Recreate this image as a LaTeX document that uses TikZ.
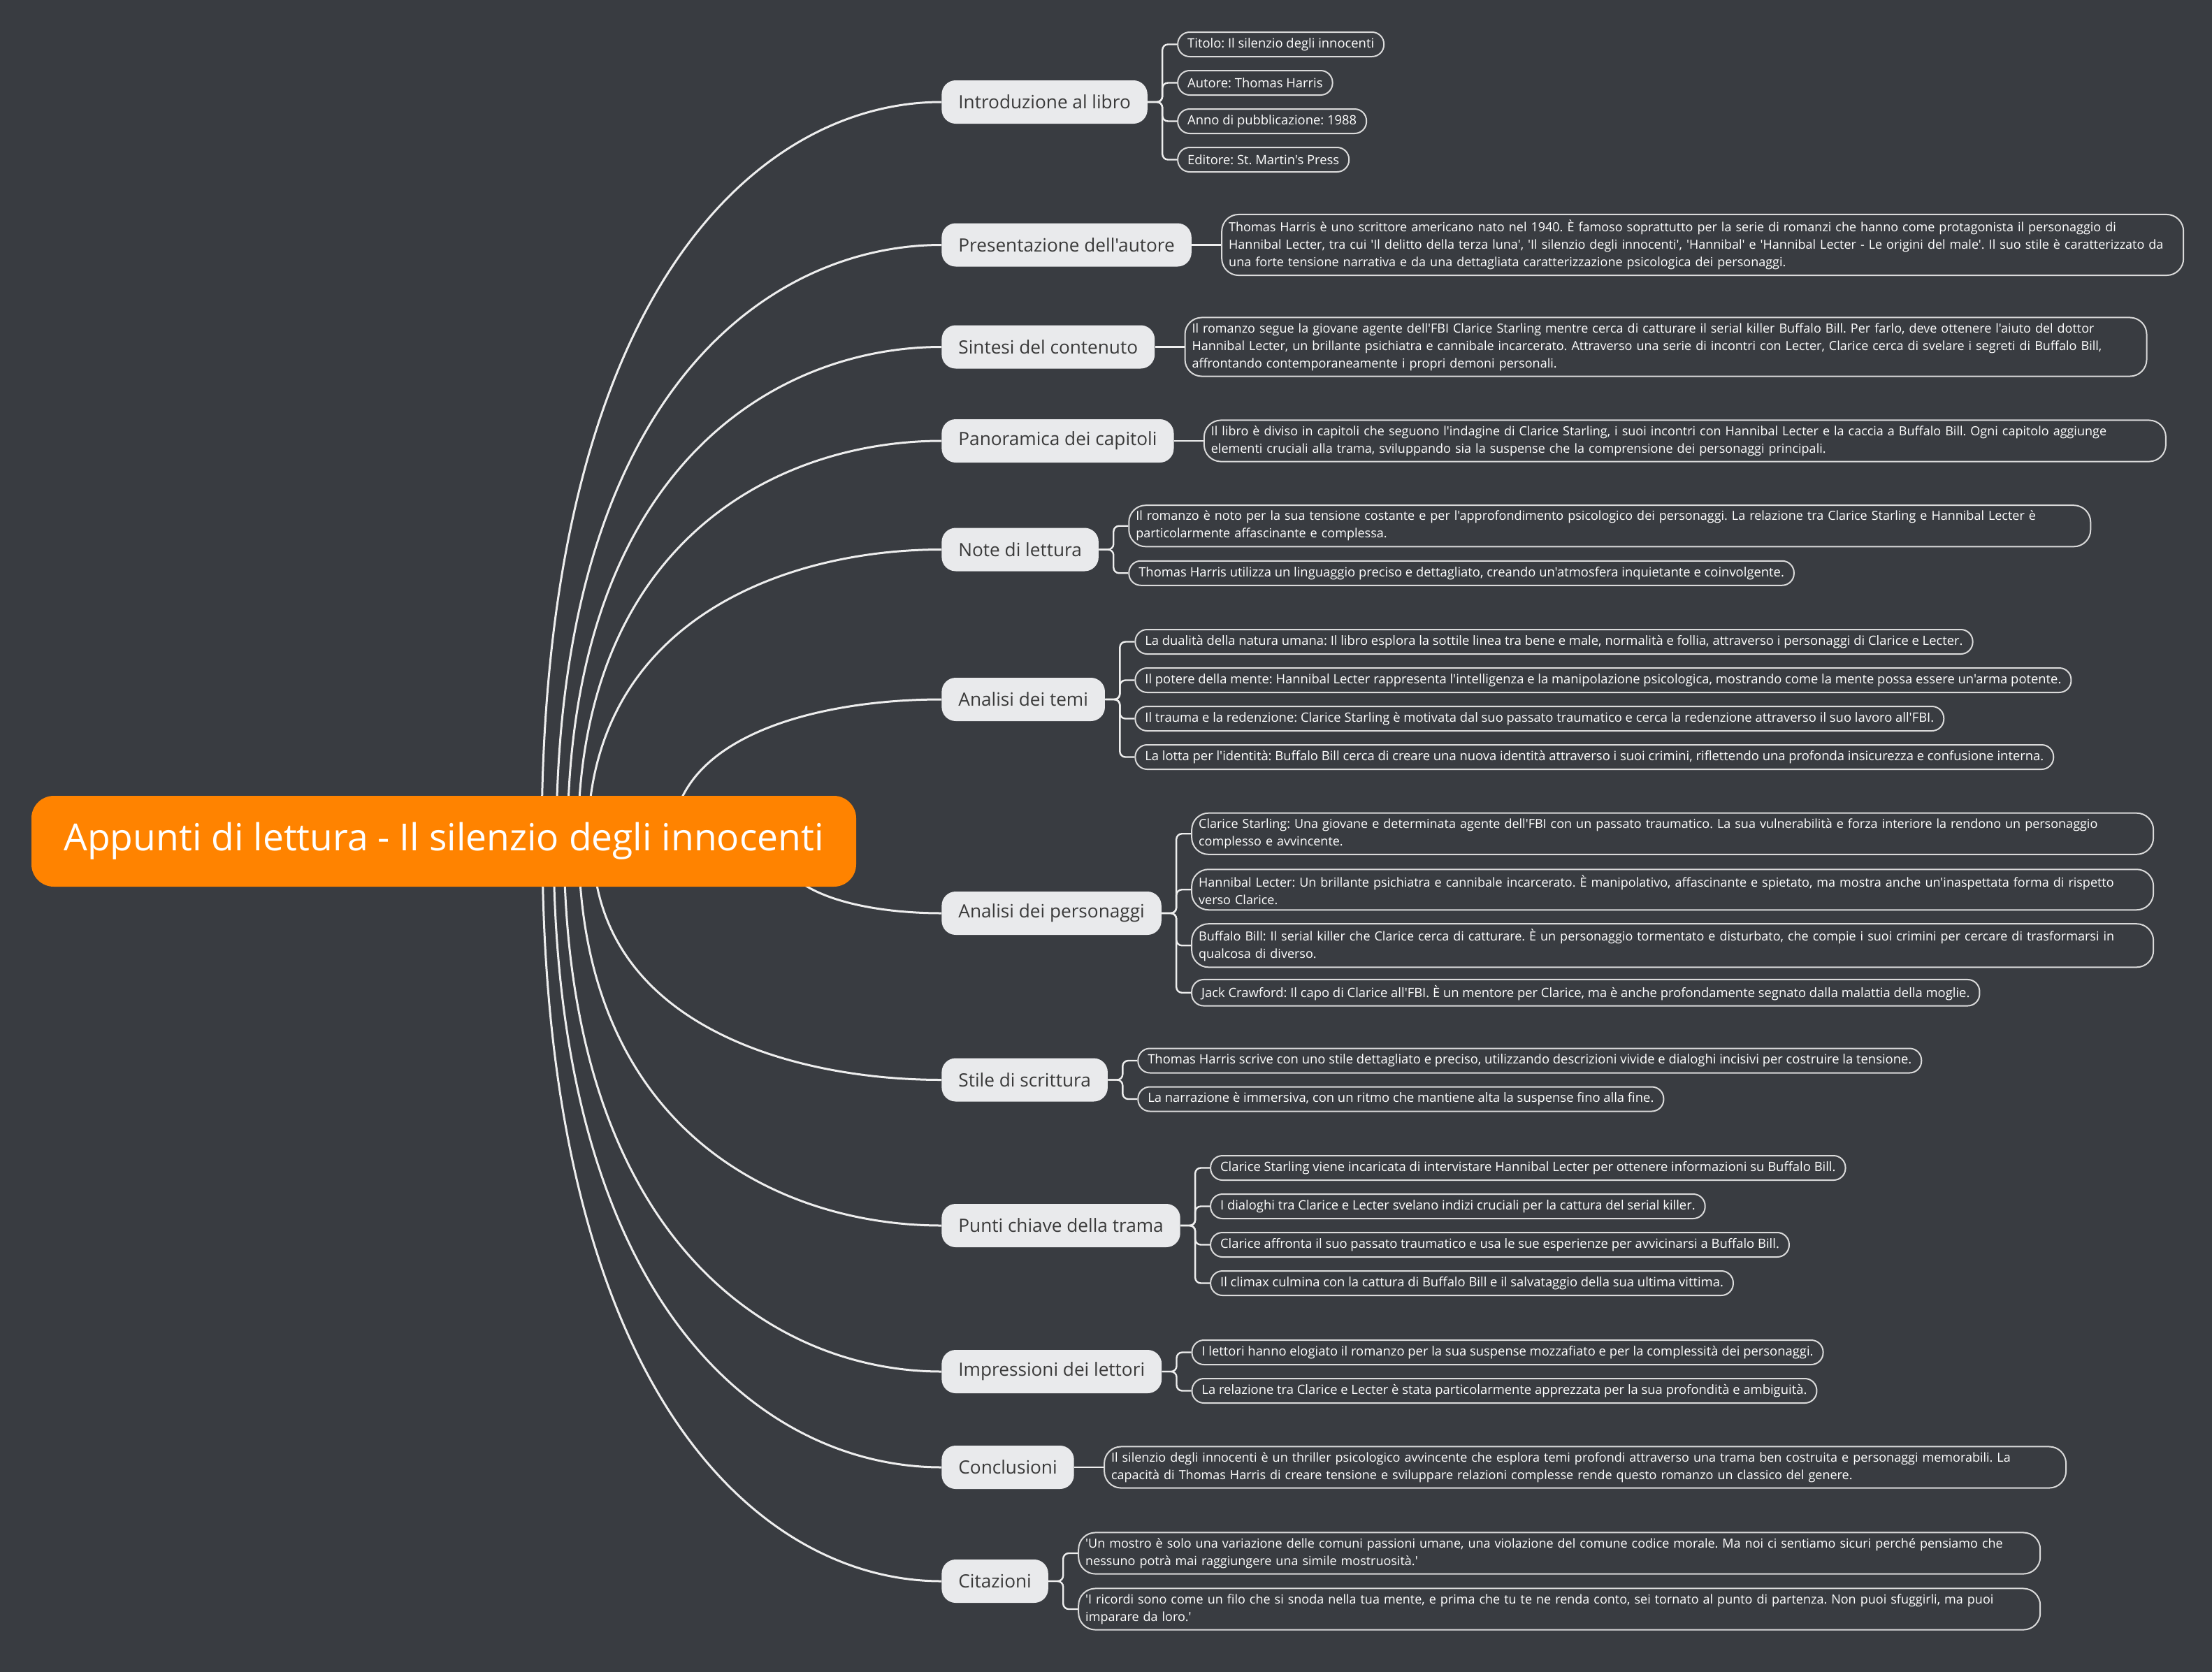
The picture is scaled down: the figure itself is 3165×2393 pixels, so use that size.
\documentclass[tikz,border=0pt]{standalone}
\usepackage{fontspec}
\newfontfamily\mapfont{Open Sans}
\usepackage{xcolor}
\usetikzlibrary{calc,backgrounds}
\definecolor{bgdark}{HTML}{393C41}
\definecolor{rootorange}{HTML}{FF8300}
\definecolor{topicgray}{HTML}{E9EAEC}
\definecolor{topictext}{HTML}{3A3A3A}
\definecolor{leafline}{HTML}{DADADA}
\definecolor{linewhite}{HTML}{EEEEEE}
\frenchspacing

\begin{document}
\begin{tikzpicture}[x=0.5pt, y=-0.5pt,
    root/.style={fill=rootorange, text=white, rounded corners=16pt,
      minimum width=590pt, minimum height=65pt,
      font=\mapfont\fontsize{26.7}{30}\selectfont},
    topic/.style={fill=topicgray, text=topictext, rounded corners=10pt,
      minimum height=31pt, inner xsep=12pt, anchor=west,
      font=\mapfont\fontsize{13.1}{16}\selectfont},
    leaf/.style={draw=leafline, line width=1pt, text=white, rounded corners=8.5pt,
      minimum height=17.5pt, inner xsep=7pt, inner ysep=4pt, align=left,
      anchor=west, font=\mapfont\fontsize{9.2}{12.5}\selectfont},
    longleaf/.style={leaf, rounded corners=12pt, inner xsep=5pt, text width=678pt,
      font=\mapfont\fontsize{9.0}{12.5}\selectfont},
    branch/.style={draw=linewhite, line width=1.5pt},
    twig/.style={draw=linewhite, line width=1.2pt, rounded corners=4pt}]
  % Mind map: root on the left, twelve topics in a column at x=1347,
  % the notes of each topic to its right.
  % Coordinates: (x, y) in pixels of the original, y grows downwards
  %   root centre (635,1204), 1180 x 130
  %   topics west side at x=1347, notes 42 to the right of their topic
  %   wrapped notes 1376 wide
  \useasboundingbox (0,0) rectangle (3165,2393);
  \begin{scope}[on background layer]
    \fill[bgdark] (0,0) rectangle (3165,2393);
  \end{scope}

  \node[root] (root) at (635,1204) {Appunti di lettura - Il silenzio degli innocenti};

  % topics
  \node[topic] (intro) at (1347,146) {Introduzione al libro};
  \node[topic] (pres) at (1347,350.5) {Presentazione dell'autore};
  \node[topic] (sintesi) at (1347,496.5) {Sintesi del contenuto};
  \node[topic] (panor) at (1347,631) {Panoramica dei capitoli};
  \node[topic] (note) at (1347,786.5) {Note di lettura};
  \node[topic] (temi) at (1347,1001) {Analisi dei temi};
  \node[topic] (perso) at (1347,1307) {Analisi dei personaggi};
  \node[topic] (stile) at (1347,1545.5) {Stile di scrittura};
  \node[topic] (trama) at (1347,1754) {Punti chiave della trama};
  \node[topic] (impr) at (1347,1963) {Impressioni dei lettori};
  \node[topic] (concl) at (1347,2100) {Conclusioni};
  \node[topic] (citaz) at (1347,2263) {Citazioni};

  % notes
  \node[leaf] (intro1) at ([shift={(42,-82.5)}]intro.east) {Titolo: Il silenzio degli innocenti};
  \node[leaf] (intro2) at ([shift={(42,-27.5)}]intro.east) {Autore: Thomas Harris};
  \node[leaf] (intro3) at ([shift={(42,27.5)}]intro.east) {Anno di pubblicazione: 1988};
  \node[leaf] (intro4) at ([shift={(42,82.5)}]intro.east) {Editore: St. Martin's Press};

  \node[longleaf] (pres1) at ([shift={(42,0)}]pres.east)
    {Thomas Harris è uno scrittore americano nato nel 1940. È famoso soprattutto per la serie di romanzi che hanno come protagonista il personaggio di\\
     Hannibal Lecter, tra cui 'Il delitto della terza luna', 'Il silenzio degli innocenti', 'Hannibal' e 'Hannibal Lecter - Le origini del male'. Il suo stile è caratterizzato da\\
     una forte tensione narrativa e da una dettagliata caratterizzazione psicologica dei personaggi.};

  \node[longleaf] (sintesi1) at ([shift={(42,0)}]sintesi.east)
    {Il romanzo segue la giovane agente dell'FBI Clarice Starling mentre cerca di catturare il serial killer Buffalo Bill. Per farlo, deve ottenere l'aiuto del dottor\\
     Hannibal Lecter, un brillante psichiatra e cannibale incarcerato. Attraverso una serie di incontri con Lecter, Clarice cerca di svelare i segreti di Buffalo Bill,\\
     affrontando contemporaneamente i propri demoni personali.};

  \node[longleaf] (panor1) at ([shift={(42,0)}]panor.east)
    {Il libro è diviso in capitoli che seguono l'indagine di Clarice Starling, i suoi incontri con Hannibal Lecter e la caccia a Buffalo Bill. Ogni capitolo aggiunge\\
     elementi cruciali alla trama, sviluppando sia la suspense che la comprensione dei personaggi principali.};

  \node[longleaf] (note1) at ([shift={(42,-33.75)}]note.east)
    {Il romanzo è noto per la sua tensione costante e per l'approfondimento psicologico dei personaggi. La relazione tra Clarice Starling e Hannibal Lecter è\\
     particolarmente affascinante e complessa.};
  \node[leaf] (note2) at ([shift={(42,33.75)}]note.east)
    {Thomas Harris utilizza un linguaggio preciso e dettagliato, creando un'atmosfera inquietante e coinvolgente.};

  \node[leaf] (temi1) at ([shift={(42,-82.5)}]temi.east)
    {La dualità della natura umana: Il libro esplora la sottile linea tra bene e male, normalità e follia, attraverso i personaggi di Clarice e Lecter.};
  \node[leaf] (temi2) at ([shift={(42,-27.5)}]temi.east)
    {Il potere della mente: Hannibal Lecter rappresenta l'intelligenza e la manipolazione psicologica, mostrando come la mente possa essere un'arma potente.};
  \node[leaf] (temi3) at ([shift={(42,27.5)}]temi.east)
    {Il trauma e la redenzione: Clarice Starling è motivata dal suo passato traumatico e cerca la redenzione attraverso il suo lavoro all'FBI.};
  \node[leaf] (temi4) at ([shift={(42,82.5)}]temi.east)
    {La lotta per l'identità: Buffalo Bill cerca di creare una nuova identità attraverso i suoi crimini, riflettendo una profonda insicurezza e confusione interna.};

  \node[longleaf] (perso1) at ([shift={(42,-113.75)}]perso.east)
    {Clarice Starling: Una giovane e determinata agente dell'FBI con un passato traumatico. La sua vulnerabilità e forza interiore la rendono un personaggio\\
     complesso e avvincente.};
  \node[longleaf] (perso2) at ([shift={(42,-33.75)}]perso.east)
    {Hannibal Lecter: Un brillante psichiatra e cannibale incarcerato. È manipolativo, affascinante e spietato, ma mostra anche un'inaspettata forma di rispetto\\
     verso Clarice.};
  \node[longleaf] (perso3) at ([shift={(42,46.25)}]perso.east)
    {Buffalo Bill: Il serial killer che Clarice cerca di catturare. È un personaggio tormentato e disturbato, che compie i suoi crimini per cercare di trasformarsi in\\
     qualcosa di diverso.};
  \node[leaf] (perso4) at ([shift={(42,113.75)}]perso.east)
    {Jack Crawford: Il capo di Clarice all'FBI. È un mentore per Clarice, ma è anche profondamente segnato dalla malattia della moglie.};

  \node[leaf] (stile1) at ([shift={(42,-27.5)}]stile.east)
    {Thomas Harris scrive con uno stile dettagliato e preciso, utilizzando descrizioni vivide e dialoghi incisivi per costruire la tensione.};
  \node[leaf] (stile2) at ([shift={(42,27.5)}]stile.east)
    {La narrazione è immersiva, con un ritmo che mantiene alta la suspense fino alla fine.};

  \node[leaf] (trama1) at ([shift={(42,-82.5)}]trama.east)
    {Clarice Starling viene incaricata di intervistare Hannibal Lecter per ottenere informazioni su Buffalo Bill.};
  \node[leaf] (trama2) at ([shift={(42,-27.5)}]trama.east)
    {I dialoghi tra Clarice e Lecter svelano indizi cruciali per la cattura del serial killer.};
  \node[leaf] (trama3) at ([shift={(42,27.5)}]trama.east)
    {Clarice affronta il suo passato traumatico e usa le sue esperienze per avvicinarsi a Buffalo Bill.};
  \node[leaf] (trama4) at ([shift={(42,82.5)}]trama.east)
    {Il climax culmina con la cattura di Buffalo Bill e il salvataggio della sua ultima vittima.};

  \node[leaf] (impr1) at ([shift={(42,-27.5)}]impr.east)
    {I lettori hanno elogiato il romanzo per la sua suspense mozzafiato e per la complessità dei personaggi.};
  \node[leaf] (impr2) at ([shift={(42,27.5)}]impr.east)
    {La relazione tra Clarice e Lecter è stata particolarmente apprezzata per la sua profondità e ambiguità.};

  \node[longleaf] (concl1) at ([shift={(42,0)}]concl.east)
    {Il silenzio degli innocenti è un thriller psicologico avvincente che esplora temi profondi attraverso una trama ben costruita e personaggi memorabili. La\\
     capacità di Thomas Harris di creare tensione e sviluppare relazioni complesse rende questo romanzo un classico del genere.};

  \node[longleaf] (citaz1) at ([shift={(42,-40)}]citaz.east)
    {'Un mostro è solo una variazione delle comuni passioni umane, una violazione del comune codice morale. Ma noi ci sentiamo sicuri perché pensiamo che\\
     nessuno potrà mai raggiungere una simile mostruosità.'};
  \node[longleaf] (citaz2) at ([shift={(42,40)}]citaz.east)
    {'I ricordi sono come un filo che si snoda nella tua mente, e prima che tu te ne renda conto, sei tornato al punto di partenza. Non puoi sfuggirli, ma puoi\\
     imparare da loro.'};

  % root to topics, behind the root
  \begin{scope}[on background layer]
    \foreach \tp/\sx in {intro/775, pres/796, sintesi/812, panor/827, note/841, temi/962,
                         perso/1111, stile/848, trama/828, impr/807, concl/792, citaz/776}
      \draw[branch] let \p1=(root.center), \p2=(\tp.west) in
        ({\sx*0.5pt}, \y1) .. controls ({\sx*0.5pt}, {\y1+0.75*(\y2-\y1)})
        and ({\x2-0.45*(\x2-\sx*0.5pt)}, \y2) .. (\p2);
  \end{scope}

  % topics to notes
  \foreach \tp/\kid in {intro/intro1, intro/intro2, intro/intro3, intro/intro4,
                        note/note1, note/note2,
                        temi/temi1, temi/temi2, temi/temi3, temi/temi4,
                        perso/perso1, perso/perso2, perso/perso3, perso/perso4,
                        stile/stile1, stile/stile2,
                        trama/trama1, trama/trama2, trama/trama3, trama/trama4,
                        impr/impr1, impr/impr2, citaz/citaz1, citaz/citaz2}
    \draw[twig] (\tp.east) -- ++(21,0) |- (\kid.west);
  \foreach \tp/\kid in {pres/pres1, sintesi/sintesi1, panor/panor1, concl/concl1}
    \draw[twig] (\tp.east) -- (\kid.west);
\end{tikzpicture}
\end{document}
